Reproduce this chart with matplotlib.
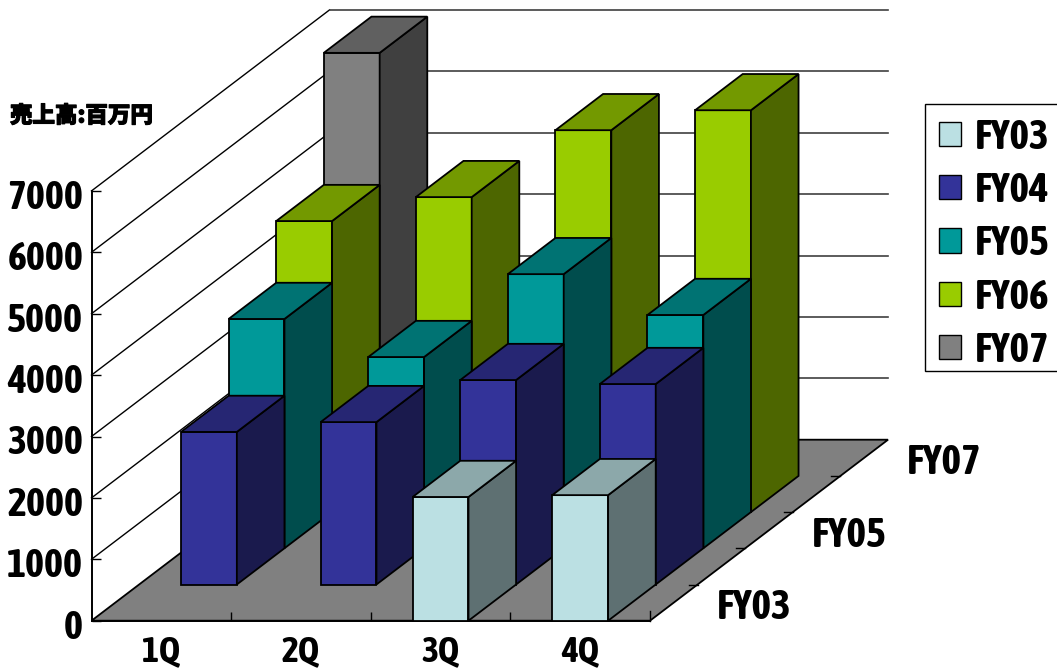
import matplotlib
matplotlib.use("Agg")
import matplotlib.pyplot as plt
import matplotlib.patheffects as pe
from matplotlib.patches import Polygon, Patch, Rectangle
from matplotlib.transforms import ScaledTranslation

quarters = ["1Q", "2Q", "3Q", "4Q"]
years = ["FY03", "FY04", "FY05", "FY06", "FY07"]
fy03 = [None, None, 2015, 2045]
fy04 = [2485, 2645, 3330, 3265]
fy05 = [3735, 3115, 4465, 3800]
fy06 = [4740, 5130, 6220, 6545]
fy07 = [6890, None, None, None]
series = [fy03, fy04, fy05, fy06, fy07]
y_ticks = [0, 1000, 2000, 3000, 4000, 5000, 6000, 7000]
depth_labels = ["FY03", "FY05", "FY07"]

front = ["#BBE0E3", "#333399", "#009999", "#99CC00", "#808080"]
top = ["#8CA8AA", "#262673", "#007373", "#739900", "#606060"]
side = ["#5E7072", "#1A1A4D", "#004D4D", "#4D6600", "#404040"]

W, H = 1057, 672
BAR_W = 0.40
DX = 47.6 / 139.6   # depth step in category units
DY = 36.2 / 0.0614  # depth step in value units
FONT = ["Asap Condensed", "Liberation Sans Narrow", "DejaVu Sans"]
BIG = 30

fig = plt.figure(figsize=(W / 100, H / 100), dpi=100, facecolor="white")
ax = fig.add_axes([91.5 / W, (H - 620.7) / H, 558.5 / W, 429.8 / H])
ax.set_xlim(0, 4)
ax.set_ylim(0, 7000)
ax.patch.set_visible(False)
for s in ("top", "right"):
    ax.spines[s].set_visible(False)
for s in ("left", "bottom"):
    ax.spines[s].set_linewidth(1.4)
    ax.spines[s].set_color("black")


def poly(pts, fc, z, lw=1.3, ec="black"):
    ax.add_patch(Polygon(pts, closed=True, facecolor=fc, edgecolor=ec,
                         linewidth=lw, zorder=z, clip_on=False, joinstyle="miter"))


n = len(years)
poly([(0, 0), (4, 0), (4 + n * DX, n * DY), (n * DX, n * DY)], "#808080", 1)
for v in y_ticks[1:]:
    ax.plot([0, n * DX], [v, v + n * DY], color="black", lw=1.0, zorder=0.8, clip_on=False)
    ax.plot([n * DX, 4 + n * DX], [v + n * DY, v + n * DY], color="#404040", lw=1.2,
            zorder=0.8, clip_on=False)

for k, vals in enumerate(series):
    zk = 3 + (n - k)
    ox, oy = k * DX, k * DY
    for c, v in enumerate(vals):
        if v is None:
            continue
        x0 = c + (1 - BAR_W) / 2 + ox
        x1 = x0 + BAR_W
        y0 = oy
        y1 = oy + v
        poly([(x0, y0), (x1, y0), (x1, y1), (x0, y1)], front[k], zk)
        poly([(x1, y0), (x1 + DX, y0 + DY), (x1 + DX, y1 + DY), (x1, y1)], side[k], zk)
        poly([(x0, y1), (x1, y1), (x1 + DX, y1 + DY), (x0 + DX, y1 + DY)], top[k], zk)

for k in range(1, n):
    ax.plot([4 + k * DX - 9 / 139.6, 4 + k * DX], [k * DY, k * DY], color="black", lw=1.0,
            zorder=2, clip_on=False)
ax.plot([4, 4], [0, 150], color="black", lw=1.0, zorder=2, clip_on=False)

for lab, k in zip(depth_labels, (0, 2, 4)):
    ax.annotate(lab, xy=(4 + (k + .5) * DX, (k + .5) * DY), xytext=(80 * .72, -5.5 * .72),
                textcoords="offset points", ha="center", va="center", fontsize=BIG,
                family=FONT, fontweight="bold", annotation_clip=False, zorder=20)

ax.set_yticks(y_ticks)
ax.tick_params(axis="y", direction="in", length=6.5, width=1.0, pad=6)
for lab in ax.get_yticklabels():
    lab.set_fontsize(29)
    lab.set_family(FONT)
    lab.set_fontweight("bold")
    lab.set_transform(lab.get_transform() + ScaledTranslation(0, -3 / 100, fig.dpi_scale_trans))
ax.set_xticks([1, 2, 3])
ax.set_xticklabels([])
ax.tick_params(axis="x", which="major", direction="in", length=6.5, width=1.0)
ax.set_xticks([.5, 1.5, 2.5, 3.5], quarters, minor=True)
ax.tick_params(axis="x", which="minor", length=0, pad=10)
for lab in ax.get_xticklabels(minor=True):
    lab.set_fontsize(26)
    lab.set_family(FONT)
    lab.set_fontweight("bold")

title = fig.text(10 / W, 1 - 116 / H, "売上高:百万円", fontsize=16.2, va="center", ha="left",
                 family=["Noto Sans CJK JP", "DejaVu Sans"], fontweight="black")
title.set_path_effects([pe.withStroke(linewidth=0.8, foreground="black")])

# legend frame: spans the right edge of the picture like the reference
fig.add_artist(Rectangle((925 / W, 1 - 371 / H), 140 / W, 267 / H, facecolor="white",
                         edgecolor="black", linewidth=1.0, transform=fig.transFigure,
                         zorder=29))
handles = [Patch(facecolor=f, edgecolor="black", linewidth=1.0) for f in front]
leg = fig.legend(handles, years, loc="upper left",
                 bbox_to_anchor=(922 / W, 1 - 101 / H), bbox_transform=fig.transFigure,
                 prop={"family": FONT, "weight": "bold", "size": BIG},
                 frameon=False,
                 handlelength=0.528, handleheight=0.528, handletextpad=0.33,
                 borderaxespad=0, borderpad=0.4, labelspacing=0.32)
leg.set_zorder(30)

fig.savefig("out.png", dpi=100)
